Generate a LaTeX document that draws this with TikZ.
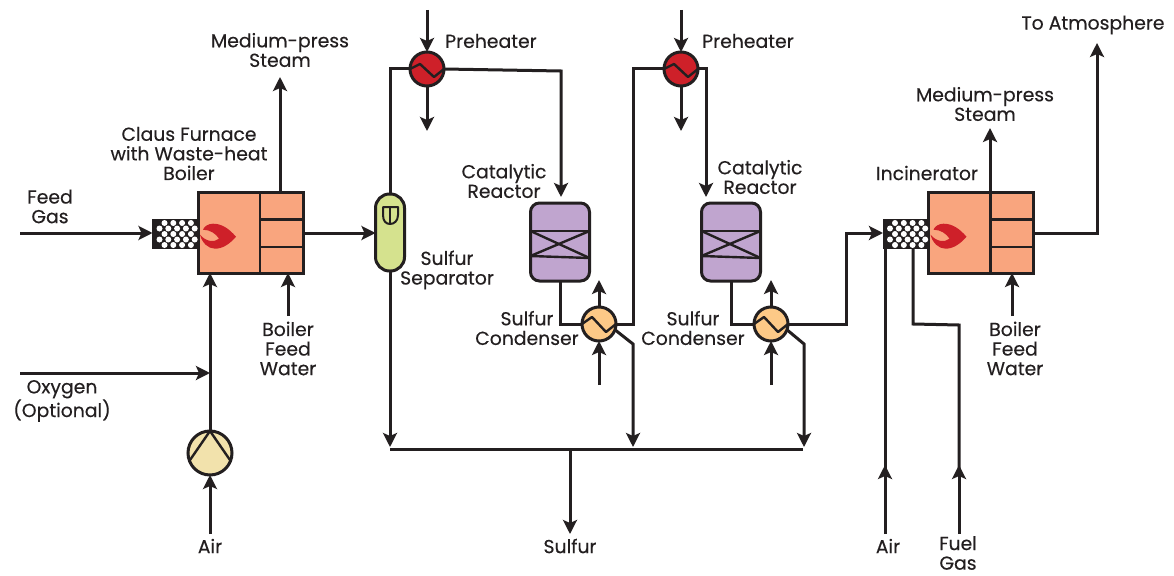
\documentclass[tikz,border=0pt]{standalone}
\usepackage{fontspec}
\setmainfont[FakeBold=0.3]{Poppins}
\usetikzlibrary{arrows.meta}
\definecolor{ink}{HTML}{231F20}
\definecolor{furn}{HTML}{F9A57E}
\definecolor{flamec}{HTML}{CE2029}
\definecolor{reac}{HTML}{C0A5CF}
\definecolor{cond}{HTML}{FDC987}
\definecolor{sepc}{HTML}{D5E28E}
\definecolor{blow}{HTML}{F2E2AC}
\tikzset{
  base/.style={draw=ink,line width=3pt,inner sep=0pt,outer sep=0pt},
  furnbox/.style={base,rectangle,fill=furn,minimum width=105pt,minimum height=81pt},
  burnbox/.style={rectangle,fill=ink,draw=ink,line width=0.5pt,inner sep=0pt,outer sep=0pt,minimum width=45pt,minimum height=29pt},
  reacbox/.style={base,rectangle,rounded corners=9pt,fill=reac,minimum width=59pt,minimum height=78pt},
  xch/.style={base,circle,minimum size=34pt},
  sepbox/.style={base,rectangle,rounded corners=14pt,fill=sepc,minimum width=29pt,minimum height=77pt},
  blowc/.style={base,circle,fill=blow,minimum size=44pt},
  pipe/.style={draw=ink,line width=3pt,line join=miter},
  flow/.style={pipe,-{Stealth[length=14pt,width=14pt,inset=3pt]}},
  inner/.style={draw=ink,line width=2.4pt,line join=round},
  lbl/.style={text=ink,font=\fontsize{18.8}{19.6}\selectfont,align=center,inner sep=0pt},
}
\newcommand{\furnaceparts}[1]{%
  \draw[inner,line width=2.8pt] ([xshift=62pt]#1.north west) -- ([xshift=62pt]#1.south west);
  \draw[inner,line width=3.2pt] ([xshift=62pt,yshift=-27.5pt]#1.north west) -- ([yshift=-27.5pt]#1.north east);
  \draw[inner] ([xshift=62pt,yshift=-55pt]#1.north west) -- ([yshift=-55pt]#1.north east);
  \begin{scope}[shift={(#1.west)},xshift=19pt,yshift=-3.2pt,yscale=-1]
    \fill[flamec] (19,-1) .. controls (12,7) and (5,12) .. (-4,12)
      .. controls (-9,12) and (-13,9) .. (-14,6)
      .. controls (-7,6) and (-1,2) .. (2,-3)
      .. controls (-3,-7) and (-11,-6) .. (-17,1)
      .. controls (-15,-7) and (-9,-13) .. (-2,-13)
      .. controls (6,-13) and (13,-8) .. (19,-1) -- cycle;
  \end{scope}}
\newcommand{\burnerdots}[1]{%
  \begin{scope}[shift={(#1.north west)}]
    \foreach \cx in {12,20.8,29.6,38.4}{
      \fill[white] (\cx,4) circle (3pt);
      \fill[white] (\cx,15) circle (3pt);
      \fill[white] (\cx,26) circle (3pt);}
    \foreach \cx in {7,15.8,24.6,33.4,42.2}{
      \fill[white] (\cx,9.5) circle (3pt);
      \fill[white] (\cx,20.5) circle (3pt);}
  \end{scope}}
\newcommand{\zigzag}[3]{%
  \draw[inner] (#1.west) -- ++(10,#2) -- ++(14,#3) -- (#1.east);}
\newcommand{\reacparts}[1]{%
  \begin{scope}[shift={(#1.north west)}]
    \draw[inner] (0,28) -- (59,28);
    \draw[inner] (0,53) -- (59,55);
    \draw[inner] (0,28) -- (59,55);
    \draw[inner] (0,53) -- (59,28);
  \end{scope}}
\begin{document}
\begin{tikzpicture}[x=1pt,y=-1pt]
\useasboundingbox (0,0) rectangle (1174,575);

% free ends
\foreach \n/\cx/\cy in {feed/20/233,oxy/20/373,airA/210/534,bfwA/288/316,stmA/280/77,
  phAin/427/10,phAout/427/131,phBin/681/10,phBout/681/131,
  sulf/570/534,hdrL/390/449,hdrM/632/449,hdrR/803/449,hdrS/570/449,
  cAup/599/280,cAdn/599/385,cBup/771/280,cBdn/771/385,
  airB/885/534,fuelB/959/534,bfwB/1012/316,stmB/990/128,atm/1097/43}
  {\coordinate (\n) at (\cx,\cy);}

% equipment
\node[furnbox] (furnA) at (250.5,232.5) {};
\node[burnbox] (burnA) at (175,233.5) {};
\node[furnbox] (furnB) at (981,232.5) {};
\node[burnbox] (burnB) at (905.5,233.5) {};
\node[sepbox] (sep) at (390,232.5) {};
\node[xch,fill=flamec] (phA) at (427,69) {};
\node[xch,fill=flamec] (phB) at (681,69) {};
\node[reacbox] (rA) at (560,242) {};
\node[reacbox] (rB) at (731,242) {};
\node[xch,fill=cond] (cA) at (599,324) {};
\node[xch,fill=cond] (cB) at (771,324) {};
\node[blowc] (blower) at (210,453) {};

\furnaceparts{furnA}
\furnaceparts{furnB}
\burnerdots{burnA}
\burnerdots{burnB}
\reacparts{rA}
\reacparts{rB}
\zigzag{phA}{-5}{13}
\zigzag{phB}{-5}{13}
\zigzag{cA}{-7}{15}
\zigzag{cB}{-7}{15}
\draw[inner,fill=none] (190,460) -- (blower.north) -- (230,460);
\draw[inner,line width=2pt] (383,207) -- (398,207) -- (398,215) .. controls (398,221) and (394,224) .. (390,224) .. controls (386,224) and (383,221) .. (383,215) -- cycle;
\draw[inner,line width=2pt] (390,207) -- (390,223);

% connectors: Claus furnace
\draw[flow] (feed) -- (burnA.west |- feed);
\draw[flow] (blower.north) -- (blower.north |- furnA.south);
\draw[flow] (oxy) -- (oxy -| blower.north);
\draw[flow] (airA) -- (blower.south);
\draw[flow] (bfwA |- 0,316) -- (bfwA |- furnA.south);
\draw[flow] (stmA |- furnA.north) -- (stmA);
\draw[flow] (furnA.east |- 0,233) -- (sep.west |- 0,233);

% first stage
\draw[pipe] (sep.north) -- (sep.north |- phA.west) -- (phA.west);
\draw[flow] (phAin) -- (phA.north);
\draw[flow] (phA.south) -- (phAout);
\draw[flow] (phA.east) -- (561,71) -- (561,197);
\draw[pipe] (rA.south) -- (rA.south |- cA.west) -- (cA.west);
\draw[flow] (cA.north) -- (cAup);
\draw[flow] (cAdn) -- (cA.south);
\draw[pipe] (cA.east) -- (633,324) -- (633,69) -- (phB.west);
\draw[flow] (cA.-20) -- (633,344) -- (633,447);

% second stage
\draw[flow] (phBin) -- (phB.north);
\draw[flow] (phB.south) -- (phBout);
\draw[flow] (phB.east) -- (706,69) -- (706,197);
\draw[pipe] (rB.south) -- (rB.south |- cB.west) -- (cB.west);
\draw[flow] (cB.north) -- (cBup);
\draw[flow] (cBdn) -- (cB.south);
\draw[flow] (cB.east) -- (846,324) -- (846,233) -- (burnB.west |- 0,233);
\draw[flow] (cB.-20) -- (804,344) -- (804,447);

% sulfur header
\draw[flow] (sep.south) -- (390,447);
\draw[pipe] (hdrL) -- (hdrR);
\draw[flow] (hdrS) -- (sulf);

% incinerator
\draw[flow] (airB) -- (885,465);
\draw[pipe] (885,470) -- (885,248);
\draw[flow] (fuelB) -- (959,465);
\draw[pipe] (959,470) -- (959,325) -- (913,324) -- (913,248);
\draw[flow] (bfwB) -- (bfwB |- furnB.south);
\draw[flow] (stmB |- furnB.north) -- (stmB);
\draw[flow] (furnB.east |- 0,233) -- (1097,233) -- (atm);

% labels
\node[lbl] (t1) at (280,50) {Medium-press\\Steam};
\node[lbl] (t2) at (189,153.5) {Claus Furnace\\with Waste-heat\\Boiler};
\node[lbl] (t3) at (50,206.5) {Feed\\Gas};
\node[lbl] (t4) at (288,348.5) {Boiler\\Feed\\Water};
\node[lbl] (t5) at (62,401) {Oxygen\\(Optional)};
\node[lbl] (t6) at (210,546) {Air};
\node[lbl] (t7) at (491,41) {Preheater};
\node[lbl] (t8) at (748,41) {Preheater};
\node[lbl] (t9) at (504,181) {Catalytic\\Reactor};
\node[lbl] (t10) at (760,177) {Catalytic\\Reactor};
\node[lbl] (t11) at (447,270) {Sulfur\\Separator};
\node[lbl] (t12) at (527,328) {Sulfur\\Condenser};
\node[lbl] (t13) at (693,328) {Sulfur\\Condenser};
\node[lbl] (t14) at (570,546) {Sulfur};
\node[lbl] (t15) at (985,104) {Medium-press\\Steam};
\node[lbl] (t16) at (927,173) {Incinerator};
\node[lbl] (t17) at (1093,25) {To Atmosphere};
\node[lbl] (t18) at (1015,348.5) {Boiler\\Feed\\Water};
\node[lbl] (t19) at (888,546) {Air};
\node[lbl] (t20) at (958,553) {Fuel\\Gas};
\end{tikzpicture}
\end{document}
